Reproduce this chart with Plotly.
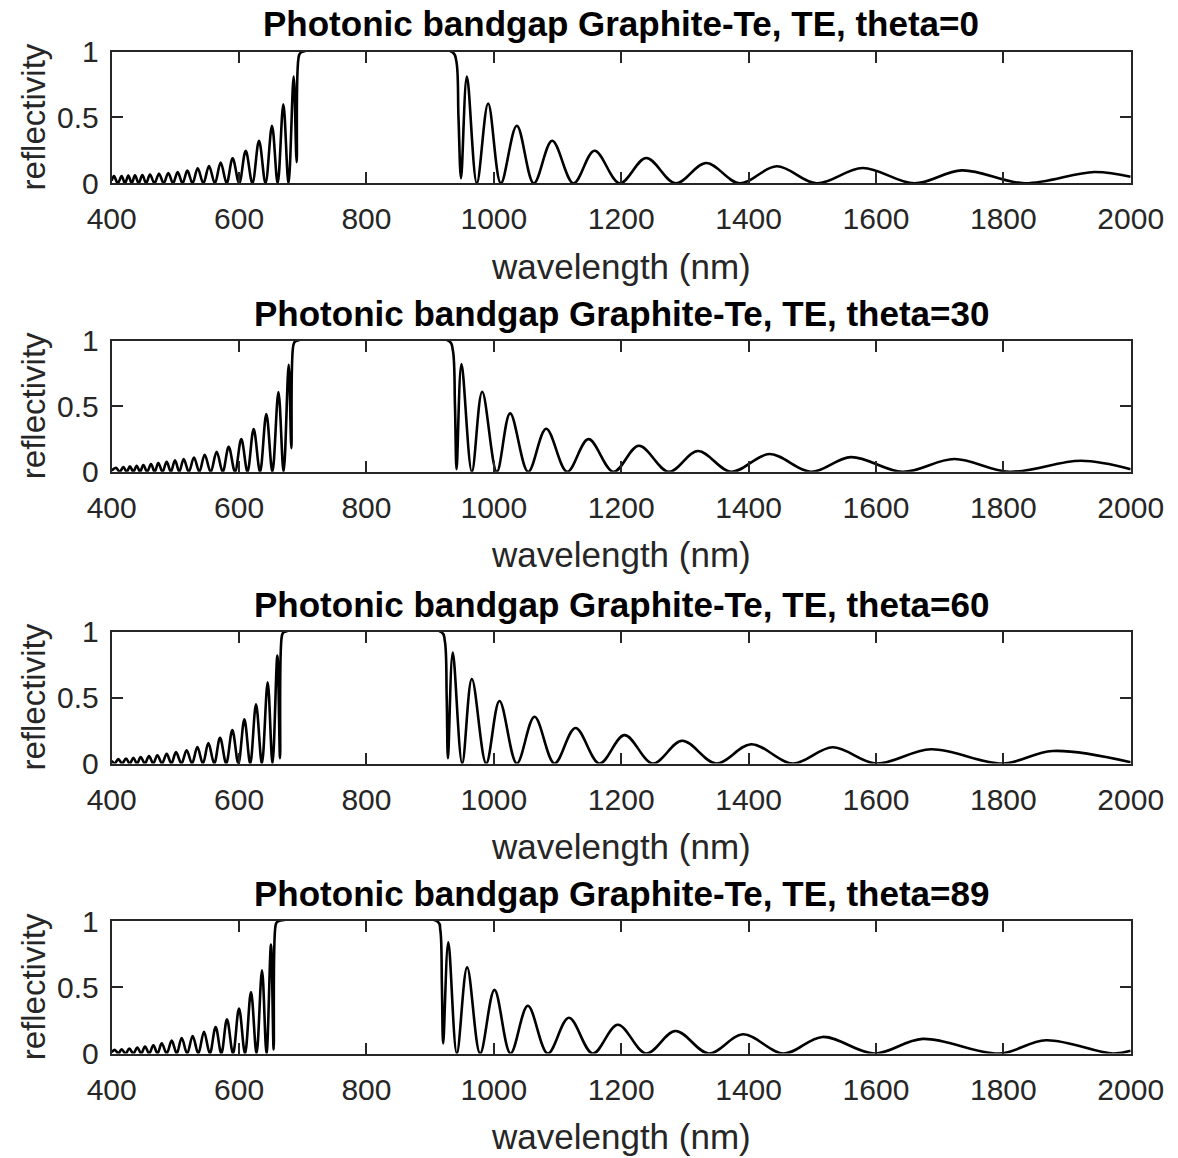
import plotly.graph_objects as go

# ---------------- data ----------------
titles = ["Photonic bandgap Graphite-Te, TE, theta=0",
          "Photonic bandgap Graphite-Te, TE, theta=30",
          "Photonic bandgap Graphite-Te, TE, theta=60",
          "Photonic bandgap Graphite-Te, TE, theta=89"]

x_ticks = [400, 600, 800, 1000, 1200, 1400, 1600, 1800, 2000]
y_ticks = [0, 0.5, 1]
y_tick_labels = ["0", "0.5", "1"]

wl_0 = [400, 403.6, 409.6, 415.6, 420.9, 426.1, 431.4, 436.6, 442.4, 448.1, 454.1, 460.1,
        467.2, 474.3, 481.6, 488.9, 496.3, 503.6, 511.2, 518.8, 526.9, 535.0, 543.9, 552.8,
        562.0, 571.1, 580.5, 589.9, 600.2, 610.4, 620.9, 631.3, 641.5, 651.7, 660.6, 669.5,
        677.6, 685.7, 690.4, 694.1, 698.0, 935.0, 941.0, 944.5, 948.5, 957.7, 973.3, 991.1,
        1011.0, 1036.1, 1062.8, 1091.6, 1125.1, 1158.1, 1197.8, 1239.2, 1285.2, 1333.4,
        1385.7, 1444.3, 1506.8, 1579.0, 1660.2, 1735.0, 1832.9, 1942.8, 2000]
R_0 = [0.02, 0.055, 0, 0.055, 0, 0.058, 0, 0.06, 0, 0.063, 0, 0.066, 0, 0.073, 0, 0.078, 0,
       0.086, 0, 0.096, 0, 0.114, 0, 0.131, 0, 0.157, 0, 0.19, 0, 0.247, 0, 0.323, 0, 0.437,
       0, 0.60, 0, 0.81, 0.16, 0.97, 0.995, 0.995, 0.93, 0.5, 0.038, 0.81, 0, 0.606, 0,
       0.437, 0, 0.323, 0, 0.247, 0, 0.192, 0, 0.154, 0, 0.129, 0, 0.116, 0, 0.098, 0,
       0.086, 0.05]

wl_30 = [400, 406.8, 412.5, 418.3, 423.5, 428.7, 434.0, 439.2, 444.5, 449.7, 455.7, 461.7,
         467.5, 473.2, 479.8, 486.3, 492.9, 499.4, 506.2, 513.0, 521.1, 529.2, 537.6, 546.0,
         555.4, 564.8, 574.3, 583.7, 593.6, 603.5, 613.2, 622.9, 632.9, 642.8, 652.3, 661.8,
         669.9, 677.9, 682.1, 685.5, 689.0, 930.0, 935.5, 939.0, 941.5, 949.2, 965.5, 981.7,
         1004.7, 1025.6, 1053.9, 1082.2, 1115.1, 1148.6, 1187.9, 1227.7, 1274.8, 1320.3,
         1372.6, 1432.8, 1498.0, 1560.7, 1641.9, 1723.0, 1809.3, 1921.9, 2000]
R_30 = [0.01, 0.03, 0, 0.036, 0, 0.041, 0, 0.046, 0, 0.051, 0, 0.059, 0, 0.066, 0, 0.076, 0,
        0.087, 0, 0.097, 0, 0.109, 0, 0.13, 0, 0.153, 0, 0.19, 0, 0.249, 0, 0.326, 0, 0.44,
        0, 0.608, 0, 0.814, 0.18, 0.97, 0.995, 0.995, 0.93, 0.5, 0.02, 0.82, 0, 0.61, 0,
        0.445, 0, 0.328, 0, 0.249, 0, 0.198, 0, 0.158, 0, 0.135, 0, 0.112, 0, 0.097, 0,
        0.084, 0.02]

wl_60 = [400, 404.5, 410.4, 416.5, 422.5, 428.3, 434.0, 439.8, 445.5, 452.1, 458.6, 465.2,
         471.7, 479.0, 486.3, 493.7, 501.0, 509.4, 517.7, 526.1, 534.5, 543.2, 551.8, 561.0,
         570.1, 579.8, 589.4, 598.9, 608.3, 617.5, 626.6, 635.8, 644.9, 652.5, 660.1, 664.3,
         667.4, 670.5, 918.0, 923.0, 926.0, 928.0, 935.5, 950.3, 965.5, 988.0, 1008.9,
         1036.1, 1063.9, 1095.3, 1128.2, 1165.9, 1205.2, 1249.6, 1295.7, 1349.1, 1404.0,
         1469.5, 1532.0, 1600.0, 1686.4, 1798.9, 1877.4, 2000]
R_60 = [0.02, 0, 0.033, 0, 0.038, 0, 0.043, 0, 0.048, 0, 0.056, 0, 0.063, 0, 0.073, 0, 0.086,
        0, 0.10, 0, 0.124, 0, 0.154, 0, 0.195, 0, 0.253, 0, 0.334, 0, 0.448, 0, 0.615, 0,
        0.818, 0.04, 0.97, 0.995, 0.995, 0.93, 0.5, 0.04, 0.84, 0, 0.64, 0, 0.474, 0, 0.354,
        0, 0.269, 0, 0.215, 0, 0.172, 0, 0.146, 0, 0.123, 0, 0.108, 0, 0.095, 0.01]

wl_89 = [400, 405.2, 410.4, 415.6, 421.7, 427.7, 434.0, 440.2, 446.3, 452.3, 458.9, 465.4,
         472.0, 478.5, 486.4, 494.2, 502.1, 509.9, 518.5, 527.1, 536.0, 544.9, 554.1, 563.2,
         572.1, 581.0, 590.5, 599.9, 609.3, 618.7, 627.4, 636.0, 643.1, 650.1, 654.3, 657.5,
         660.5, 912.0, 916.0, 918.5, 920.5, 928.5, 941.9, 958.1, 978.5, 1001.0, 1026.2,
         1053.4, 1084.8, 1117.8, 1155.4, 1194.7, 1239.2, 1285.2, 1337.6, 1391.0, 1455.0,
         1516.3, 1597.4, 1673.3, 1793.6, 1866.9, 1972.0, 2000]
R_89 = [0.01, 0.027, 0, 0.032, 0, 0.037, 0, 0.045, 0, 0.052, 0, 0.062, 0, 0.077, 0, 0.097, 0,
        0.117, 0, 0.132, 0, 0.164, 0, 0.2, 0, 0.259, 0, 0.34, 0, 0.463, 0, 0.627, 0, 0.823,
        0.03, 0.97, 0.995, 0.995, 0.93, 0.5, 0.075, 0.84, 0, 0.65, 0, 0.48, 0, 0.36, 0, 0.27,
        0, 0.217, 0, 0.17, 0, 0.145, 0, 0.125, 0, 0.11, 0, 0.10, 0, 0.02]

series = [(wl_0, R_0), (wl_30, R_30), (wl_60, R_60), (wl_89, R_89)]
for w, r in series:
    assert len(w) == len(r), (len(w), len(r))

# ---------------- layout geometry (pixels) ----------------
W, H = 1178, 1158
X_LEFT, X_RIGHT = 111.7, 1130.7
AX_TOP = [51.5, 340.5, 631.5, 921.0]
AX_BOT = [183.3, 471.8, 763.5, 1053.5]

FONT = "Liberation Sans, Arial, Helvetica, sans-serif"
AXC = "#262626"


def px(x):
    return x / W


def py(y):
    return 1 - y / H


fig = go.Figure()
annotations = []
for i, (w, r) in enumerate(series):
    n = "" if i == 0 else str(i + 1)
    fig.add_trace(go.Scatter(x=w, y=r, mode="lines", xaxis="x" + n, yaxis="y" + n,
                             line=dict(color="black", width=2.6, shape="spline", smoothing=1.0),
                             showlegend=False, hoverinfo="skip"))
    common = dict(showline=True, linecolor=AXC, linewidth=2, mirror="ticks",
                  ticks="inside", ticklen=11, tickwidth=2, tickcolor=AXC,
                  showgrid=False, zeroline=False, automargin=False,
                  tickfont=dict(family=FONT, size=30, color=AXC))
    fig.update_layout(**{
        "xaxis" + n: dict(domain=[px(X_LEFT), px(X_RIGHT)], range=[400, 2000],
                          anchor="y" + n, tickvals=x_ticks,
                          ticklabelstandoff=8, **common),
        "yaxis" + n: dict(domain=[py(AX_BOT[i]), py(AX_TOP[i])], range=[0, 1],
                          anchor="x" + n, tickvals=y_ticks, ticktext=y_tick_labels,
                          ticklabelstandoff=5, **common),
    })
    annotations.append(dict(text="<b>%s</b>" % titles[i], x=px((X_LEFT + X_RIGHT) / 2),
                            y=py(AX_TOP[i] - 27.5), xref="paper", yref="paper",
                            xanchor="center", yanchor="middle", showarrow=False,
                            font=dict(family=FONT, size=35, color="black")))
    annotations.append(dict(text="wavelength (nm)", x=px((X_LEFT + X_RIGHT) / 2),
                            y=py(AX_BOT[i] + 83), xref="paper", yref="paper",
                            xanchor="center", yanchor="middle", showarrow=False,
                            font=dict(family=FONT, size=35, color=AXC)))
    annotations.append(dict(text="reflectivity", x=px(33),
                            y=py((AX_TOP[i] + AX_BOT[i]) / 2), xref="paper", yref="paper",
                            xanchor="center", yanchor="middle", showarrow=False, textangle=-90,
                            font=dict(family=FONT, size=33, color=AXC)))

fig.update_layout(width=W, height=H, margin=dict(l=0, r=0, t=0, b=0, autoexpand=False),
                  paper_bgcolor="white", plot_bgcolor="white",
                  annotations=annotations)

fig.write_html("out.html",
               config={"displayModeBar": False, "staticPlot": True},
               post_script="document.body.style.margin='0px';"
                           "document.body.style.overflow='hidden';")
